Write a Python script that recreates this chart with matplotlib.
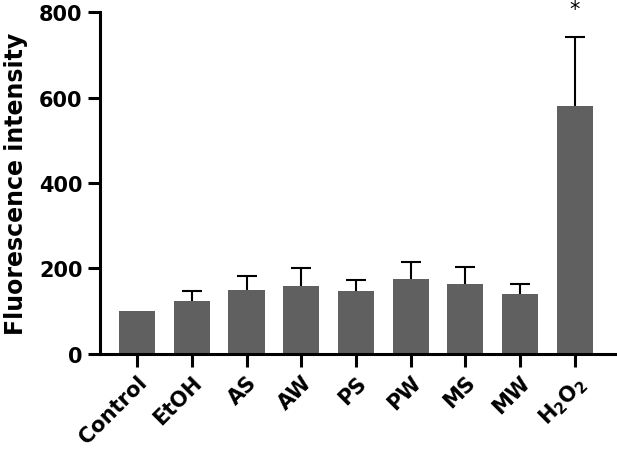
import numpy as np
import matplotlib
matplotlib.use("Agg")
import matplotlib.pyplot as plt

plt.rcParams['font.family'] = ['DejaVu Sans']
plt.rcParams['font.weight'] = 'bold'
plt.rcParams['mathtext.fontset'] = 'custom'
plt.rcParams['mathtext.rm'] = 'DejaVu Sans'
plt.rcParams['mathtext.it'] = 'DejaVu Sans'

groups = ['Control', 'EtOH', 'AS', 'AW', 'PS', 'PW', 'MS', 'MW', r'H$_\mathregular{2}$O$_\mathregular{2}$']
means = [100, 124, 149, 159, 146, 174, 164, 141, 581]
errors = [0, 22, 33, 43, 27, 42, 39, 22, 162]
yticks = [0, 200, 400, 600, 800]

fig = plt.figure(figsize=(6.17, 4.56), dpi=100)
ax = fig.add_axes([0.162, 0.222, 0.835, 0.749])

x = np.arange(len(groups))
means = np.array(means)
errors = np.array(errors)
ax.bar(x, means, width=0.66, color='#606060', zorder=2)

# only upper half of the error bars shows, lower half sits behind the bars
has_err = errors > 0
ax.errorbar(x[has_err], means[has_err], yerr=errors[has_err], fmt='none',
            ecolor='black', elinewidth=1.5, capsize=7, capthick=1.5, zorder=1)

# significance marker
ax.text(x[-1], means[-1] + errors[-1] + 42, '*', ha='center', va='bottom',
        fontsize=15, fontweight='normal')

ax.set_xlim(-0.68, 8.74)
ax.set_ylim(0, 800)
ax.set_yticks(yticks)
ax.set_xticks(x)
ax.set_xticklabels(groups, rotation=45, ha='right', rotation_mode='anchor')
ax.set_ylabel('Fluorescence intensity', fontsize=17, fontweight='bold', labelpad=8)

for s in ['top', 'right']:
    ax.spines[s].set_visible(False)
for s in ['left', 'bottom']:
    ax.spines[s].set_linewidth(2.2)
ax.tick_params(axis='both', width=2.2, length=9, labelsize=15)
ax.tick_params(axis='x', pad=4)

fig.savefig('out.png', dpi=100)
